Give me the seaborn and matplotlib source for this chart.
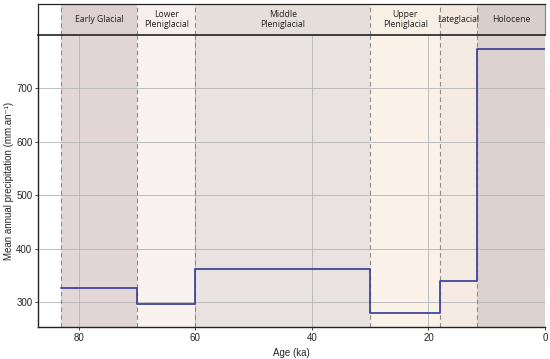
import seaborn as sns
import matplotlib.pyplot as plt
import pandas as pd

sns.set_style("white")
plt.rcParams['font.family'] = ['Liberation Sans', 'DejaVu Sans']

# Period boundaries (ka) and mean annual precipitation (mm/yr)
boundaries = [83, 70, 60, 30, 18, 11.7, 0]
precip = [327, 296, 361, 280, 340, 773]
periods = ['Early Glacial', 'Lower\nPleniglacial', 'Middle\nPleniglacial',
           'Upper\nPleniglacial', 'Lateglacial', 'Holocene']
colors = ['#e3d6d7', '#f8f2f0', '#e8e3e0', '#faf2e8', '#f5ebe2', '#dcd3d0']
band_colors = ['#ddd0d1', '#f6efed', '#e5dfdc', '#f8efe5', '#f3e8df', '#d9d0cd']

df = pd.DataFrame({'Age': boundaries, 'Precip': precip + [precip[-1]]})

fig = plt.figure(figsize=(5.5, 3.59), dpi=100)
ax = fig.add_axes([0.069, 0.089, 0.922, 0.8135])
band = fig.add_axes([0.069, 0.9025, 0.922, 0.0865])

for a in (ax, band):
    for i in range(len(periods)):
        a.axvspan(boundaries[i], boundaries[i + 1], color=colors[i] if a is ax else band_colors[i],
                  lw=0, zorder=0)
    for b in boundaries[:-1]:
        a.axvline(b, color='#8a8a8a', ls=(0, (4, 3)), lw=0.8, zorder=2)
    a.set_xlim(87, 0)

sns.lineplot(data=df, x='Age', y='Precip', drawstyle='steps-post', color='#41459a',
             lw=1.3, ax=ax, zorder=3, sort=False)

ax.set_ylim(253, 800)
ax.set_xticks([80, 60, 40, 20, 0])
ax.set_yticks([300, 400, 500, 600, 700])
ax.set_axisbelow(True)
ax.grid(True, color='#b5b5b5', lw=0.6)
ax.set_xlabel('Age (ka)', fontsize=7, labelpad=4)
ax.set_ylabel('Mean annual precipitation (mm.an\u207b\u00b9)', fontsize=7, labelpad=1.5)
ax.tick_params(labelsize=7, length=2.5, width=0.6, direction='out', bottom=True, left=True, pad=1.5)
ax.spines['right'].set_visible(False)
ax.spines['top'].set_visible(False)
for s in ('left', 'bottom'):
    ax.spines[s].set_color('#222222')
    ax.spines[s].set_linewidth(1.0)

band.set_ylim(0, 1)
band.set_xticks([])
band.set_yticks([])
for s in band.spines.values():
    s.set_color('#222222')
    s.set_linewidth(0.9)
band.spines['right'].set_color('#888888')
band.spines['bottom'].set_linewidth(1.2)
for i, name in enumerate(periods):
    mid = (boundaries[i] + boundaries[i + 1]) / 2
    band.text(mid, 0.5, name, ha='center', va='center', fontsize=6.2,
              family=['Open Sans', 'DejaVu Sans'], color='#222222', linespacing=1.2)

plt.savefig('out.png', dpi=100)
plt.close()
